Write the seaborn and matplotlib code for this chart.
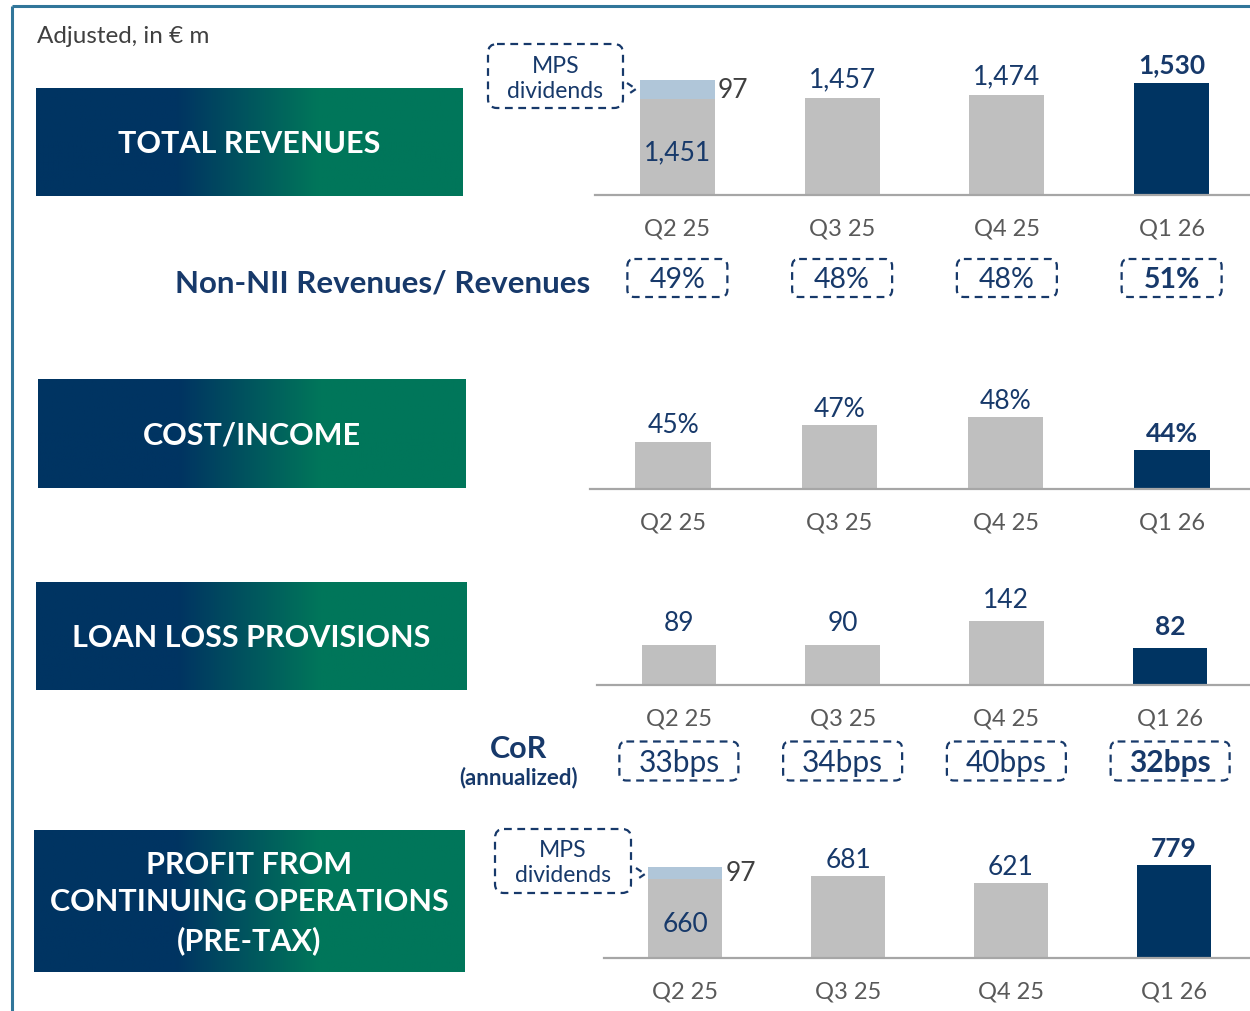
import numpy as np
import pandas as pd
import seaborn as sns
import matplotlib.pyplot as plt
from matplotlib.colors import LinearSegmentedColormap
from matplotlib.patches import FancyBboxPatch

# ---- data ----
quarters = ['Q2 25', 'Q3 25', 'Q4 25', 'Q1 26']
revenues = [1451, 1457, 1474, 1530]
revenue_dividends = [97, 0, 0, 0]
non_nii_share = ['49%', '48%', '48%', '51%']
cost_income = [45, 47, 48, 44]
llp = [89, 90, 142, 82]
cor_bps = ['33bps', '34bps', '40bps', '32bps']
profit = [660, 681, 621, 779]
profit_dividends = [97, 0, 0, 0]

NAVY = '#003462'
TXT = '#17396a'
GREY = '#bfbfbf'
LIGHT = '#b0c6d9'
GREEN = '#00765a'
TICK = '#595959'
bar_colors = [GREY, GREY, GREY, NAVY]

sns.set_theme(style='white')
plt.rcParams['font.family'] = ['Lato', 'DejaVu Sans']

W, H = 1250, 1012
fig = plt.figure(figsize=(12.5, 10.12), dpi=100)

# overlay in pixel coordinates for decorations
ov = fig.add_axes([0, 0, 1, 1])
ov.patch.set_visible(False)
ov.axis('off')


def panel(left, width, base, height, ylim):
    ax = fig.add_axes([left / W, 1 - base / H, width / W, height / H])
    ax.patch.set_visible(False)
    ax.set_xlim(-0.5, 3.5)
    ax.set_ylim(*ylim)
    return ax


def style(ax):
    for s in ['left', 'top', 'right']:
        ax.spines[s].set_visible(False)
    ax.spines['bottom'].set_color('#a6a6a6')
    ax.spines['bottom'].set_linewidth(1.6)
    ax.set_yticks([])
    ax.set_xlabel('')
    ax.set_ylabel('')
    ax.tick_params(axis='x', length=0, pad=16, labelsize=17, labelcolor=TICK)
    ax.set_xlim(-0.5, 3.5)


def value_labels(ax, vals, fmt, off=19, size=19):
    for i, v in enumerate(vals):
        bold = i == 3
        ax.annotate(fmt(v), (i, v), xytext=(0, off), textcoords='offset pixels',
                    ha='center', va='center', fontsize=size, color=TXT,
                    fontweight='bold' if bold else 'normal')


def draw_bars(ax, vals, divs, width):
    totals = [v + d for v, d in zip(vals, divs)]
    sns.barplot(x=quarters, y=totals, color=LIGHT, saturation=1, width=width, ax=ax,
                linewidth=0)
    sns.barplot(x=quarters, y=vals, hue=quarters, palette=bar_colors, saturation=1,
                width=width, legend=False, ax=ax, linewidth=0)


def stacked_labels(ax, vals, divs, bottom, off):
    for i in range(4):
        if divs[i] == 0:
            ax.annotate(f'{vals[i]:,}', (i, vals[i]), xytext=(0, off),
                        textcoords='offset pixels', ha='center', va='center', fontsize=19,
                        color=TXT, fontweight='bold' if i == 3 else 'normal')
        else:
            ax.annotate(f'{vals[i]:,}', (i, (bottom + vals[i]) / 2), xytext=(0, -5),
                        textcoords='offset pixels', ha='center', va='center', fontsize=19,
                        color=TXT)
            ax.annotate(f'{divs[i]}', (i + 0.455 / 2, vals[i] + divs[i] / 2),
                        xytext=(3, 0), textcoords='offset pixels', ha='left', va='center',
                        fontsize=19, color='#404040')


# ---- panel 1: total revenues ----
p1 = dict(left=595, width=659, base=196, height=160)
ax1 = panel(p1['left'], p1['width'], p1['base'], p1['height'], (972, 972 + 160 / 0.2))
draw_bars(ax1, revenues, revenue_dividends, 0.455)
style(ax1)
stacked_labels(ax1, revenues, revenue_dividends, 972, 19)

# ---- panel 2: cost / income ----
p2 = dict(left=590, width=665, base=490, height=110)
ax2 = panel(p2['left'], p2['width'], p2['base'], p2['height'], (39.15, 39.15 + 110 / 8.1))
draw_bars(ax2, cost_income, [0, 0, 0, 0], 0.455)
style(ax2)
value_labels(ax2, cost_income, lambda v: f'{v}%', off=17)

# ---- panel 3: loan loss provisions ----
p3 = dict(left=597, width=655, base=686, height=106)
ax3 = panel(p3['left'], p3['width'], p3['base'], p3['height'], (0, 106 / 0.45))
draw_bars(ax3, llp, [0, 0, 0, 0], 0.455)
style(ax3)
value_labels(ax3, llp, lambda v: f'{v}', off=22)

# ---- panel 4: profit pre-tax ----
p4 = dict(left=604, width=651, base=959, height=130)
ax4 = panel(p4['left'], p4['width'], p4['base'], p4['height'], (0, 130 / 0.12))
draw_bars(ax4, profit, profit_dividends, 0.455)
style(ax4)
stacked_labels(ax4, profit, profit_dividends, 0, 17)

# ---- decorations in pixel space ----
grad = LinearSegmentedColormap.from_list('g', [(0, NAVY), (0.33, NAVY), (0.66, GREEN), (1, GREEN)])
gimg = np.linspace(0, 1, 256).reshape(1, -1)
headers = [
    ((36, 89, 463, 197), 'TOTAL REVENUES'),
    ((38, 380, 466, 489), 'COST/INCOME'),
    ((36, 583, 467, 691), 'LOAN LOSS PROVISIONS'),
    ((34, 831, 465, 973), 'PROFIT FROM\nCONTINUING OPERATIONS\n(PRE-TAX)'),
]
for (x0, y0, x1, y1), label in headers:
    ov.imshow(gimg, cmap=grad, extent=(x0, x1, y1, y0), aspect='auto', zorder=1)
    ov.text((x0 + x1) / 2, (y0 + y1) / 2 + 1, label, ha='center', va='center',
            color='white', fontsize=22, fontweight='bold', linespacing=1.4, zorder=2)

# frame
ov.plot([12, 12], [7, H], color='#31769a', lw=2.2, solid_capstyle='butt')
ov.plot([12, W], [7, 7], color='#31769a', lw=2.2, solid_capstyle='butt')

ov.text(37, 36, 'Adjusted, in € m', ha='left', va='center', fontsize=17.5, color='#404040')
ov.text(590, 283, 'Non-NII Revenues/ Revenues', ha='right', va='center', fontsize=22.5,
        fontweight='bold', color=TXT)
ov.text(519, 749, 'CoR', ha='center', va='center', fontsize=22, fontweight='bold', color=TXT)
ov.text(519, 778, '(annualized)', ha='center', va='center', fontsize=16, fontweight='bold', color=TXT)


def dashed_box(cx, cy, w, h, label, bold=False, size=20):
    box = FancyBboxPatch((cx - w / 2, cy - h / 2), w, h, boxstyle='round,pad=0,rounding_size=7',
                         fc='white', ec=TXT, lw=1.6, ls=(0, (3.5, 2.5)), zorder=3)
    ov.add_patch(box)
    ov.text(cx, cy + 1, label, ha='center', va='center', fontsize=size, color=TXT,
            fontweight='bold' if bold else 'normal', zorder=4)


step1 = p1['width'] / 4
for i, s in enumerate(non_nii_share):
    dashed_box(p1['left'] + (i + 0.5) * step1, 279, 100, 38, s, bold=i == 3, size=20.5)
step3 = p3['width'] / 4
for i, s in enumerate(cor_bps):
    dashed_box(p3['left'] + (i + 0.5) * step3, 762, 119, 39, s, bold=i == 3, size=21.5)


def callout(x0, y0, x1, y1, tip):
    box = FancyBboxPatch((x0, y0), x1 - x0, y1 - y0, boxstyle='round,pad=0,rounding_size=9',
                         fc='none', ec=TXT, lw=1.6, ls=(0, (3.5, 2.5)), zorder=3)
    ov.add_patch(box)
    tx, ty = tip
    ov.plot([tx - 9, tx, tx - 9], [ty - 6, ty, ty + 6], color=TXT, lw=1.6,
            ls=(0, (3, 2)), zorder=3)
    cx = (x0 + x1) / 2
    ov.text(cx, y0 + 21, 'MPS', ha='center', va='center', fontsize=16.5, color=TXT)
    ov.text(cx, y0 + 46, 'dividends', ha='center', va='center', fontsize=16.5, color=TXT)


callout(488, 45, 623, 109, (636, 90))
callout(495, 830, 631, 894, (645, 875))

ov.set_xlim(0, W)
ov.set_ylim(H, 0)

fig.savefig('out.png', dpi=100)
